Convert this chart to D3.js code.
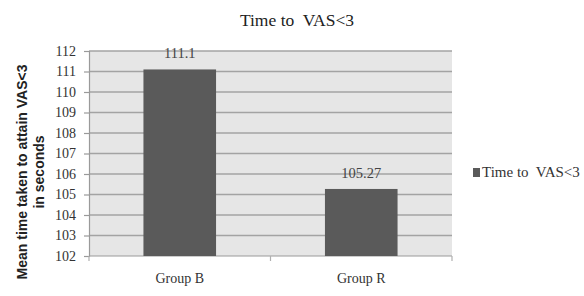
<!DOCTYPE html>
<html>
<head>
<meta charset="utf-8">
<script src="https://cdnjs.cloudflare.com/ajax/libs/d3/7.8.5/d3.min.js"></script>
<style>
  body { margin: 0; background: #fff; }
  svg { display: block; }
  svg text { white-space: pre; }
</style>
</head>
<body>
<div class="chart"></div>
<script>
// data
const categories = ['Group B', 'Group R'];
const values = [111.1, 105.27];
const valueLabels = ['111.1', '105.27'];
const yTicks = [102, 103, 104, 105, 106, 107, 108, 109, 110, 111, 112];
const seriesName = 'Time to  VAS<3';
const chartTitle = 'Time to  VAS<3';
const yTitleLines = ['Mean time taken to attain VAS<3', 'in seconds'];

const width = 584, height = 296;
const plot = { left: 89, right: 452, top: 51, bottom: 256 };
const serif = '"Liberation Serif", "DejaVu Serif", serif';

const svg = d3.select('.chart').append('svg')
    .attr('width', width)
    .attr('height', height);

// scales
const xScale = d3.scaleBand()
    .domain(categories)
    .range([plot.left, plot.right])
    .paddingInner(0.6)
    .paddingOuter(0.3);

const yScale = d3.scaleLinear()
    .domain([102, 112])
    .range([plot.bottom, plot.top]);

// plot background
svg.append('rect')
    .attr('x', plot.left)
    .attr('y', plot.top)
    .attr('width', plot.right - plot.left)
    .attr('height', plot.bottom - plot.top)
    .attr('fill', '#e6e6e6');

// gridlines
svg.append('g')
    .selectAll('line')
    .data(yTicks.slice(1))
    .enter()
    .append('line')
    .attr('x1', plot.left)
    .attr('x2', plot.right)
    .attr('y1', d => yScale(d))
    .attr('y2', d => yScale(d))
    .attr('stroke', '#a3a3a3')
    .attr('stroke-width', 1.5);

// y axis
const gY = svg.append('g')
    .attr('transform', 'translate(' + plot.left + ',0)')
    .call(d3.axisLeft(yScale).tickValues(yTicks).tickSize(5).tickPadding(8).tickFormat(d3.format('d')));
gY.attr('font-family', serif);
gY.select('.domain').attr('stroke', '#9a9a9a').attr('stroke-width', 1.2);
gY.selectAll('.tick line').attr('stroke', '#9a9a9a').attr('stroke-width', 1.2);
gY.selectAll('.tick text')
    .attr('font-family', serif)
    .attr('font-size', 14)
    .attr('fill', '#333');

// x axis line and boundary ticks
svg.append('line')
    .attr('x1', plot.left).attr('x2', plot.right)
    .attr('y1', plot.bottom).attr('y2', plot.bottom)
    .attr('stroke', '#9a9a9a').attr('stroke-width', 1.2);
svg.append('g')
    .selectAll('line')
    .data(d3.range(categories.length + 1))
    .enter()
    .append('line')
    .attr('x1', i => plot.left + i * xScale.step())
    .attr('x2', i => plot.left + i * xScale.step())
    .attr('y1', plot.bottom)
    .attr('y2', plot.bottom + 5)
    .attr('stroke', '#b0b0b0').attr('stroke-width', 1.2);

// category labels
svg.append('g')
    .selectAll('text')
    .data(categories)
    .enter()
    .append('text')
    .attr('x', d => xScale(d) + xScale.bandwidth() / 2)
    .attr('y', 283)
    .attr('text-anchor', 'middle')
    .attr('font-family', serif)
    .attr('font-size', 14)
    .attr('fill', '#333')
    .text(d => d);

// bars
svg.append('g')
    .selectAll('rect')
    .data(values)
    .enter()
    .append('rect')
    .attr('x', (d, i) => xScale(categories[i]))
    .attr('y', d => yScale(d))
    .attr('width', xScale.bandwidth())
    .attr('height', d => yScale(102) - yScale(d))
    .attr('fill', '#5a5a5a');

// value labels
svg.append('g')
    .selectAll('text')
    .data(values)
    .enter()
    .append('text')
    .attr('x', (d, i) => xScale(categories[i]) + xScale.bandwidth() / 2)
    .attr('y', d => yScale(d) - 11)
    .attr('text-anchor', 'middle')
    .attr('font-family', serif)
    .attr('font-size', 14.5)
    .attr('fill', '#444')
    .text((d, i) => valueLabels[i]);

// title
svg.append('text')
    .attr('x', 297)
    .attr('y', 26)
    .attr('text-anchor', 'middle')
    .attr('font-family', serif)
    .attr('font-size', 17.5)
    .attr('fill', '#222')
    .text(chartTitle);

// y title
svg.append('g')
    .selectAll('text')
    .data(yTitleLines)
    .enter()
    .append('text')
    .attr('transform', (d, i) => 'translate(' + (27 + i * 17) + ',172) rotate(-90)')
    .attr('text-anchor', 'middle')
    .attr('font-family', '"Liberation Sans", Arial, sans-serif')
    .attr('font-weight', 'bold')
    .attr('font-size', 14)
    .attr('fill', '#222')
    .text(d => d);

// legend
svg.append('rect')
    .attr('x', 473).attr('y', 168)
    .attr('width', 7).attr('height', 9)
    .attr('fill', '#5a5a5a');
svg.append('text')
    .attr('x', 482).attr('y', 177)
    .attr('font-family', serif)
    .attr('font-size', 15)
    .attr('fill', '#333')
    .text(seriesName);
</script>
</body>
</html>
